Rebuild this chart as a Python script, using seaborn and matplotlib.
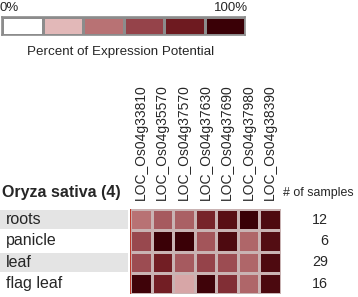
import numpy as np
import pandas as pd
import matplotlib
matplotlib.use("Agg")
import matplotlib.pyplot as plt
import seaborn as sns
from matplotlib.colors import LinearSegmentedColormap

genes = ["LOC_Os04g33810", "LOC_Os04g35570", "LOC_Os04g37570", "LOC_Os04g37630",
         "LOC_Os04g37690", "LOC_Os04g37980", "LOC_Os04g38390"]
tissues = ["roots", "panicle", "leaf", "flag leaf"]
n_samples = [12, 6, 29, 16]

# percent of expression potential, read by eye from the cell shades
roots = [40, 50, 48, 75, 88, 100, 92]
panicle = [58, 100, 100, 52, 92, 45, 90]
leaf = [56, 78, 50, 60, 56, 45, 92]
flag_leaf = [98, 78, 25, 98, 70, 45, 93]

scale_steps = [0, 20, 40, 60, 80, 100]
scale_colors = ["#ffffff", "#e2b8b8", "#b87274", "#95434a", "#6e1a20", "#3a0006"]

W, H = 358, 297
cmap = LinearSegmentedColormap.from_list("expr", scale_colors)

sns.set_style("white")
plt.rcParams["font.family"] = ["Liberation Sans", "DejaVu Sans"]

fig = plt.figure(figsize=(W / 100, H / 100), dpi=100)


def box(x0, y0, x1, y1):
    # pixel box (top-left origin) -> figure fraction rect
    return [x0 / W, 1 - y1 / H, (x1 - x0) / W, (y1 - y0) / H]


# full-figure overlay for text
ov = fig.add_axes([0, 0, 1, 1])
ov.set_xlim(0, W)
ov.set_ylim(H, 0)
ov.axis("off")

# legend strip
ax_leg = fig.add_axes(box(2, 17, 245, 35))
sns.heatmap(pd.DataFrame([scale_steps]), ax=ax_leg, cmap=cmap, vmin=0, vmax=100,
            cbar=False, linewidths=2, linecolor="#8c8c8c", xticklabels=False, yticklabels=False)
for s in ax_leg.spines.values():
    s.set_visible(True)
    s.set_color("#8c8c8c")
    s.set_linewidth(1.2)
ov.text(0, 8, "0%", fontsize=9.5, ha="left", va="center")
ov.text(248, 8, "100%", fontsize=9.5, ha="right", va="center")
ov.text(27, 52, "Percent of Expression Potential", fontsize=9.6, ha="left", va="center")

# row label backgrounds
top, row_h = 209, 21.3
for i, t in enumerate(tissues):
    y = top + i * row_h
    if i % 2 == 0:
        ov.add_patch(plt.Rectangle((0, y + 1), 128, row_h - 2, color="#e4e4e4", lw=0))
    ov.text(6, y + row_h / 2, t, fontsize=11.5, ha="left", va="center")
    ov.text(328, y + row_h / 2, str(n_samples[i]), fontsize=10.3, ha="right", va="center")

ov.text(2, 193, "Oryza sativa (4)", fontsize=11.5, fontweight="bold", ha="left", va="center")
ov.text(283, 193, "# of samples", fontsize=8.9, ha="left", va="center")

# main heatmap
data = pd.DataFrame([roots, panicle, leaf, flag_leaf], index=tissues, columns=genes)
ax = fig.add_axes(box(130, top, 281, top + 4 * row_h))
sns.heatmap(data, ax=ax, cmap=cmap, vmin=0, vmax=100, cbar=False,
            linewidths=1, linecolor="#c9b3b3", xticklabels=False, yticklabels=False)
ax.axvline(0, color="#c0392b", lw=1.5)

cell_w = 151 / len(genes)
for j, g in enumerate(genes):
    ov.text(130 + (j + 0.5) * cell_w, 200, g, fontsize=10, rotation=90,
            ha="center", va="bottom")

fig.savefig("out.png", dpi=100)
